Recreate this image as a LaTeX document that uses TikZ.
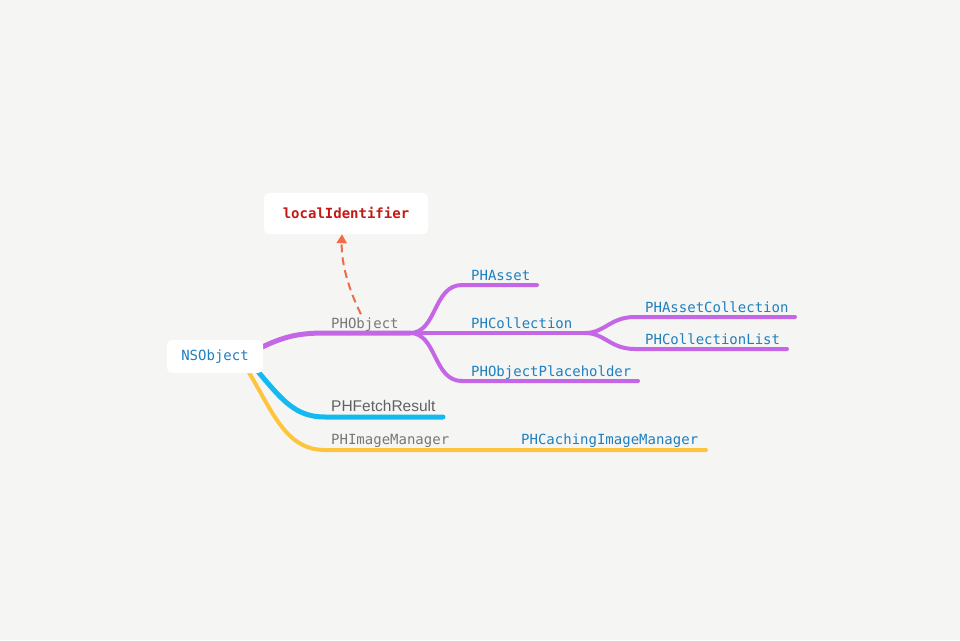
\documentclass[tikz,border=0pt]{standalone}
\usepackage{fontspec}
\setmonofont{DejaVu Sans Mono}
\setsansfont{Liberation Sans}
\usepackage{tikz}
\usetikzlibrary{arrows.meta,backgrounds}
\definecolor{bgcol}{HTML}{F5F6F4}
\definecolor{purplebr}{HTML}{C566E6}
\definecolor{cyanbr}{HTML}{14B9F0}
\definecolor{yellowbr}{HTML}{FFC43D}
\definecolor{orangearr}{HTML}{F26B47}
\definecolor{classblue}{HTML}{1F7FBF}
\definecolor{greytxt}{HTML}{777777}
\definecolor{keyred}{HTML}{C41A16}

\begin{document}
\begin{tikzpicture}[x=1pt,y=-1pt,
  every node/.style={inner sep=0pt},
  topic/.style={fill=white,rounded corners=5pt,font=\ttfamily\fontsize{14}{16}\selectfont},
  label/.style={anchor=base west,font=\ttfamily\fontsize{14}{16}\selectfont},
  branch/.style={line width=4pt,line cap=round}]
\useasboundingbox (0,0) rectangle (960,640);
% boxes
\node [topic,minimum width=164pt,minimum height=41pt,text=keyred] (local) at (346,213.5) {\bfseries\raisebox{2pt}{localIdentifier}};
\node [topic,minimum width=96pt,minimum height=33pt,text=classblue] (ns) at (215,356.5) {\raisebox{-1pt}{NSObject}};
% junctions and line ends
\coordinate (jobj) at (410,333);
\coordinate (jcol) at (585,333);
\coordinate (eAsset) at (537,285);
\coordinate (eAssetCol) at (795,317);
\coordinate (eColList) at (787,349);
\coordinate (ePlace) at (638,381);
\coordinate (eFetch) at (443,417);
\coordinate (eCache) at (706,450);
% labels
\node [label,text=greytxt] (phobject) at (331,328) {PHObject};
\node [label,text=classblue] (phasset) at (471,280) {PHAsset};
\node [label,text=classblue] (phcol) at (471,328) {PHCollection};
\node [label,text=classblue] (phassetcol) at (645,312) {PHAssetCollection};
\node [label,text=classblue] (phcollist) at (645,344) {PHCollectionList};
\node [label,text=classblue] (phplace) at (471,376) {PHObjectPlaceholder};
\node [label,font=\sffamily\fontsize{15.5}{17}\selectfont,text=black!62] (phfetch) at (331,411) {PHFetchResult};
\node [label,text=greytxt] (phimage) at (331,444) {PHImageManager};
\node [label,text=classblue] (phcache) at (521,444) {PHCachingImageManager};
\begin{pgfonlayer}{background}
\fill [bgcol] (0,0) rectangle (960,640);
% purple tree
\draw [branch,purplebr,line width=5pt] (ns.east) ++(-2,-9) .. controls (285,336) and (300,333) .. (325,333) -- (jobj);
\draw [branch,purplebr] (jobj) .. controls (437,333) and (433,285) .. (462,285) -- (eAsset);
\draw [branch,purplebr] (jobj) .. controls (437,333) and (433,381) .. (462,381) -- (ePlace);
\draw [branch,purplebr] (jobj) -- (jcol);
\draw [branch,purplebr] (jcol) .. controls (605,333) and (610,317) .. (635,317) -- (eAssetCol);
\draw [branch,purplebr] (jcol) .. controls (605,333) and (610,349) .. (635,349) -- (eColList);
% fetch result and image manager
\draw [branch,yellowbr] (ns.south) ++(32,-4) .. controls (272,410) and (285,450) .. (325,450) -- (eCache);
\draw [branch,cyanbr,line width=5pt] (ns.south) ++(41,-4) .. controls (282,400) and (295,417) .. (325,417) -- (eFetch);
\end{pgfonlayer}
% property arrow
\draw [orangearr,line width=2pt,dash pattern=on 8pt off 5pt,-{Triangle[length=9pt,width=10pt]}] (phobject.north) ++(-4,-3) .. controls (350,292) and (341,265) .. (local.south -| 342,0);
\end{tikzpicture}
\end{document}
